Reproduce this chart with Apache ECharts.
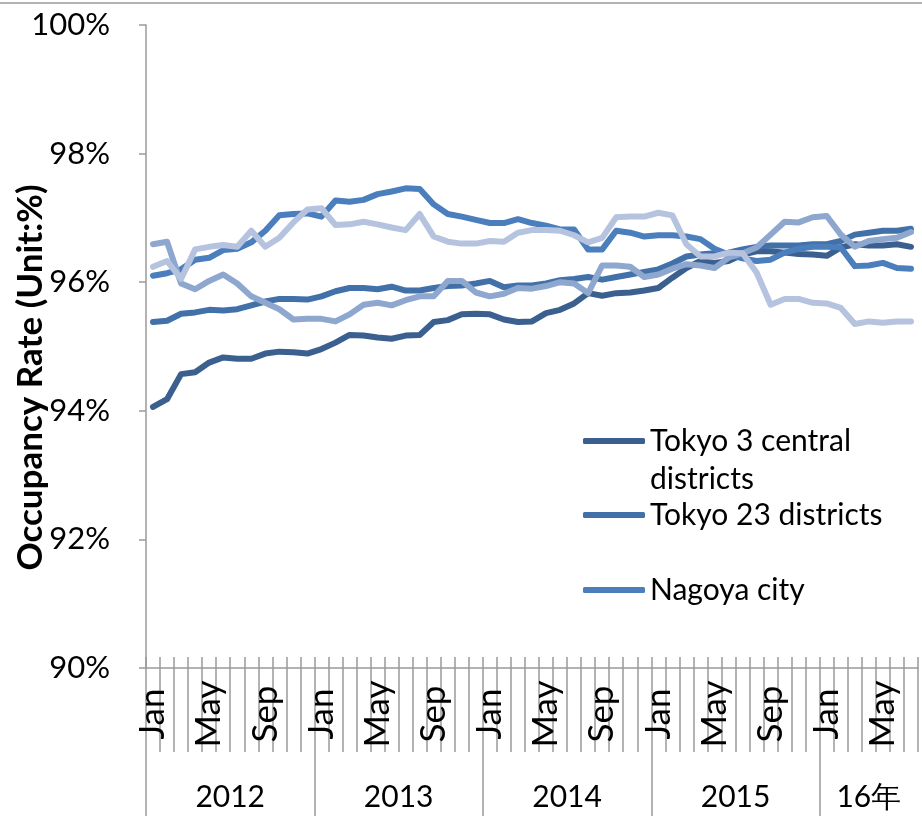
<!DOCTYPE html>
<html>
<head>
<meta charset="utf-8">
<title>Occupancy Rate</title>
<script src="https://cdn.jsdelivr.net/npm/echarts@6/dist/echarts.min.js"></script>
<style>
  html, body { margin: 0; padding: 0; background: #fff; }
  #chart { width: 922px; height: 816px; }
</style>
</head>
<body>
<div id="chart"></div>
<script>
// Monthly occupancy rates (%), Jan 2012 - Jul 2016
const years = ['2012', '2013', '2014', '2015', '16年'];
const monthsPerYear = [12, 12, 12, 12, 7];
const monthNames = ['Jan', 'Feb', 'Mar', 'Apr', 'May', 'Jun', 'Jul', 'Aug', 'Sep', 'Oct', 'Nov', 'Dec'];

const tokyo3 = [94.06, 94.18, 94.57, 94.60, 94.75, 94.83, 94.81, 94.81, 94.89, 94.92, 94.91, 94.89,
  94.96, 95.06, 95.18, 95.17, 95.14, 95.12, 95.17, 95.18, 95.38, 95.41, 95.50, 95.51,
  95.50, 95.42, 95.38, 95.39, 95.52, 95.57, 95.67, 95.83, 95.79, 95.83, 95.84, 95.87,
  95.91, 96.07, 96.22, 96.33, 96.30, 96.33, 96.43, 96.48, 96.48, 96.46, 96.44, 96.43,
  96.41, 96.54, 96.59, 96.57, 96.57, 96.59, 96.55];
const tokyo23 = [95.38, 95.40, 95.51, 95.53, 95.57, 95.56, 95.58, 95.64, 95.70, 95.74, 95.74, 95.73,
  95.78, 95.86, 95.91, 95.91, 95.89, 95.93, 95.87, 95.87, 95.91, 95.94, 95.95, 95.98,
  96.02, 95.92, 95.95, 95.95, 95.98, 96.03, 96.05, 96.08, 96.04, 96.08, 96.12, 96.16,
  96.20, 96.29, 96.40, 96.43, 96.45, 96.46, 96.51, 96.55, 96.57, 96.57, 96.57, 96.59,
  96.59, 96.64, 96.74, 96.77, 96.80, 96.80, 96.83];
const nagoya = [96.10, 96.14, 96.20, 96.35, 96.38, 96.50, 96.52, 96.62, 96.80, 97.04, 97.06, 97.07,
  97.02, 97.27, 97.25, 97.28, 97.37, 97.41, 97.46, 97.45, 97.21, 97.06, 97.02, 96.97,
  96.92, 96.92, 96.98, 96.92, 96.88, 96.82, 96.82, 96.51, 96.51, 96.80, 96.77, 96.71,
  96.73, 96.73, 96.71, 96.67, 96.52, 96.43, 96.37, 96.33, 96.35, 96.46, 96.52, 96.55,
  96.55, 96.54, 96.25, 96.26, 96.30, 96.22, 96.21];
const series4 = [96.59, 96.63, 95.98, 95.89, 96.02, 96.12, 95.98, 95.78, 95.68, 95.58, 95.42, 95.43,
  95.43, 95.39, 95.50, 95.65, 95.68, 95.64, 95.72, 95.78, 95.78, 96.02, 96.02, 95.84,
  95.78, 95.82, 95.91, 95.90, 95.94, 96.00, 95.98, 95.83, 96.26, 96.26, 96.24, 96.08,
  96.12, 96.21, 96.28, 96.26, 96.22, 96.38, 96.45, 96.54, 96.74, 96.94, 96.93, 97.01,
  97.03, 96.74, 96.55, 96.64, 96.67, 96.69, 96.78];
const series5 = [96.24, 96.33, 96.05, 96.51, 96.55, 96.58, 96.55, 96.80, 96.55, 96.69, 96.93, 97.13,
  97.15, 96.89, 96.90, 96.94, 96.90, 96.85, 96.81, 97.06, 96.71, 96.63, 96.60, 96.60,
  96.64, 96.63, 96.77, 96.81, 96.81, 96.80, 96.73, 96.62, 96.69, 97.01, 97.02, 97.02,
  97.08, 97.04, 96.59, 96.40, 96.40, 96.46, 96.45, 96.15, 95.65, 95.74, 95.74, 95.68,
  95.67, 95.60, 95.35, 95.39, 95.37, 95.39, 95.39];

const yTicks = [90, 92, 94, 96, 98, 100];

// Month categories and year band positions (in month units)
const categories = [];
const yearStarts = [];
const yearCenters = [];
let start = 0;
years.forEach((y, yi) => {
  yearStarts.push(start);
  yearCenters.push(start + monthsPerYear[yi] / 2);
  for (let m = 0; m < monthsPerYear[yi]; m++) categories.push(monthNames[m]);
  start += monthsPerYear[yi];
});

const FONT = 'Lato';
const axisGray = '#9a9a9a';
const colors = ['#3b5f8f', '#4270a9', '#4a7ebc', '#8ea7cf', '#b6c3de'];

const chart = echarts.init(document.getElementById('chart'), null, { renderer: 'canvas' });

function lineSeries(name, data, color) {
  return {
    name: name,
    type: 'line',
    data: data,
    xAxisIndex: 0,
    yAxisIndex: 0,
    symbol: 'none',
    smooth: false,
    color: color,
    lineStyle: { width: 6, color: color, cap: 'round', join: 'round' },
    emphasis: { disabled: true },
    z: 3
  };
}

function legendBox(name, top, formatter) {
  return {
    data: [name],
    left: 583,
    top: top,
    orient: 'vertical',
    padding: 0,
    icon: 'roundRect',
    itemWidth: 62,
    itemHeight: 6,
    itemGap: 0,
    selectedMode: false,
    formatter: formatter,
    textStyle: { fontFamily: FONT, fontSize: 30, color: '#000', lineHeight: 38 }
  };
}

const option = {
  backgroundColor: '#fff',
  animation: false,
  grid: { left: 146, right: 4, top: 25, bottom: 148, containLabel: false, outerBoundsMode: 'none' },
  legend: [
    // the blank first line keeps the icon level with "Tokyo 3 central"
    legendBox('Tokyo 3 central districts', 384, () => ' \nTokyo 3 central\ndistricts'),
    legendBox('Tokyo 23 districts', 496),
    legendBox('Nagoya city', 571)
  ],
  xAxis: [
    {
      type: 'category',
      data: categories,
      boundaryGap: true,
      axisLine: { show: true, lineStyle: { color: axisGray, width: 1.5 } },
      axisTick: { show: true, interval: 0, inside: false, length: 84, lineStyle: { color: axisGray, width: 1.5 } },
      axisLabel: {
        interval: 3,
        rotate: 90,
        align: 'center',
        verticalAlign: 'middle',
        margin: 46,
        fontFamily: FONT,
        fontSize: 35,
        color: '#000'
      },
      splitLine: { show: false }
    },
    {
      type: 'category',
      data: categories,
      boundaryGap: true,
      position: 'bottom',
      axisLine: { show: false },
      axisTick: { show: true, interval: 0, inside: true, length: 11, lineStyle: { color: axisGray, width: 1.5 } },
      axisLabel: { show: false },
      splitLine: { show: false }
    },
    {
      type: 'value',
      min: 0,
      max: categories.length,
      position: 'bottom',
      offset: 84,
      axisLine: { show: false },
      axisTick: {
        show: true,
        customValues: yearStarts,
        length: 64,
        lineStyle: { color: axisGray, width: 1.5 }
      },
      axisLabel: {
        customValues: yearCenters,
        formatter: (v) => {
          const i = yearCenters.indexOf(v);
          return i >= 0 ? years[i] : '';
        },
        verticalAlign: 'middle',
        margin: 45,
        fontFamily: FONT,
        fontSize: 30,
        color: '#000',
        hideOverlap: false
      },
      splitLine: { show: false }
    }
  ],
  yAxis: {
    type: 'value',
    min: yTicks[0],
    max: yTicks[yTicks.length - 1],
    interval: 2,
    name: 'Occupancy Rate (Unit:%)',
    nameLocation: 'middle',
    nameRotate: 90,
    nameGap: 98,
    nameMoveOverlap: false,
    nameTextStyle: {
      fontFamily: FONT, fontSize: 35, fontWeight: 'bold', color: '#000',
      padding: [0, 62, 0, 0]
    },
    axisLine: { show: true, lineStyle: { color: axisGray, width: 1.5 } },
    axisTick: { show: true, inside: false, length: 7, lineStyle: { color: axisGray, width: 1.5 } },
    axisLabel: {
      formatter: '{value}%',
      margin: 36,
      fontFamily: FONT,
      fontSize: 31,
      color: '#000'
    },
    splitLine: { show: false }
  },
  graphic: [
    {
      type: 'line',
      shape: { x1: 0, y1: 3, x2: 922, y2: 3 },
      style: { stroke: axisGray, lineWidth: 1.5 },
      silent: true
    }
  ],
  series: [
    lineSeries('Tokyo 3 central districts', tokyo3, colors[0]),
    lineSeries('Tokyo 23 districts', tokyo23, colors[1]),
    lineSeries('Nagoya city', nagoya, colors[2]),
    lineSeries('Series 4', series4, colors[3]),
    lineSeries('Series 5', series5, colors[4])
  ]
};

chart.setOption(option);
</script>
</body>
</html>
